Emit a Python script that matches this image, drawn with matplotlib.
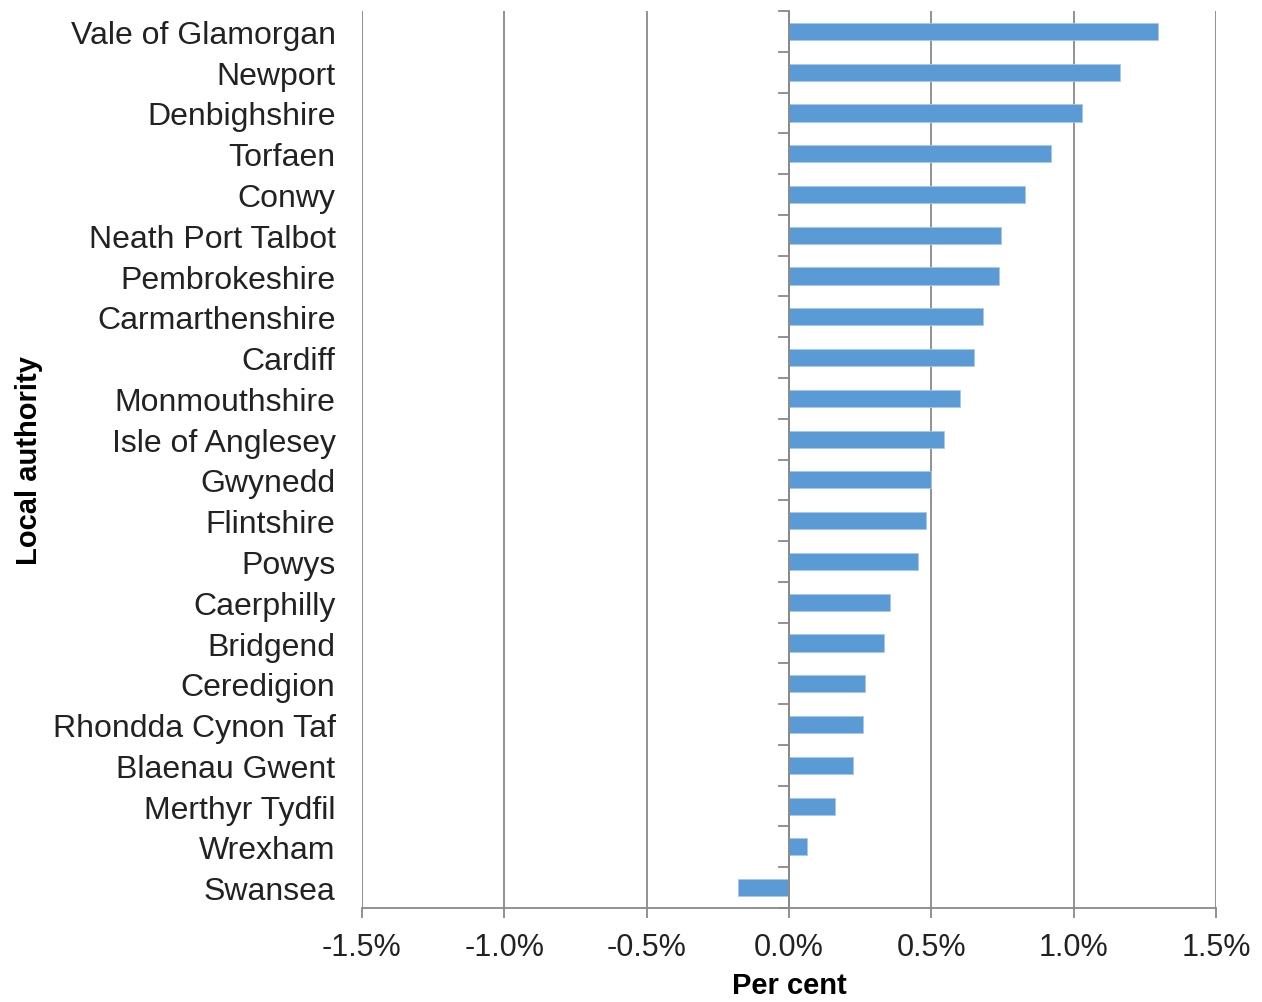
import matplotlib.pyplot as plt
from matplotlib.ticker import FuncFormatter

plt.rcParams['font.family'] = ['Liberation Sans', 'DejaVu Sans']

authorities = [
    "Vale of Glamorgan", "Newport", "Denbighshire", "Torfaen", "Conwy",
    "Neath Port Talbot", "Pembrokeshire", "Carmarthenshire", "Cardiff",
    "Monmouthshire", "Isle of Anglesey", "Gwynedd", "Flintshire", "Powys",
    "Caerphilly", "Bridgend", "Ceredigion", "Rhondda Cynon Taf",
    "Blaenau Gwent", "Merthyr Tydfil", "Wrexham", "Swansea",
]
change_pct = [
    1.296, 1.163, 1.029, 0.920, 0.829, 0.745, 0.738, 0.681, 0.650,
    0.601, 0.544, 0.499, 0.481, 0.453, 0.355, 0.334, 0.267, 0.260,
    0.225, 0.162, 0.063, -0.179,
]
x_ticks = [-1.5, -1.0, -0.5, 0.0, 0.5, 1.0, 1.5]

grey = '#898989'
fig = plt.figure(figsize=(12.62, 10.03), dpi=100)
ax = fig.add_axes([0.2868, 0.0937, 0.6767, 0.8943])

n = len(authorities)
ypos = list(range(n - 1, -1, -1))
ax.barh(ypos, change_pct, height=0.42, color='#5B9BD5',
        edgecolor='#a9c8e8', linewidth=0.6, zorder=3)

ax.set_xlim(-1.5, 1.5)
ax.set_ylim(-0.5, n - 0.5)
ax.set_xticks(x_ticks)
ax.xaxis.set_major_formatter(FuncFormatter(lambda v, p: f"{v:.1f}%"))
ax.grid(axis='x', color=grey, linewidth=1.3, zorder=0)

for s in ['top', 'right', 'left']:
    ax.spines[s].set_visible(False)
ax.spines['bottom'].set_color(grey)
ax.spines['bottom'].set_linewidth(1.3)
ax.tick_params(axis='x', colors=grey, length=7, width=1.3, labelsize=22,
               labelcolor='#222222', pad=10)

# category axis drawn at zero, labels at the left edge
ax.axvline(0, color=grey, linewidth=1.3, zorder=4)
ax.set_yticks(ypos)
ax.set_yticklabels(authorities)
ax.tick_params(axis='y', length=0, labelsize=23, labelcolor='#222222', pad=19)
for b in range(n + 1):
    ax.plot([-0.035, 0], [b - 0.5, b - 0.5], color=grey, linewidth=1.3,
            zorder=4, clip_on=False)

ax.set_xlabel("Per cent", fontsize=21, fontweight='bold', labelpad=7)
ax.set_ylabel("Local authority", fontsize=21, fontweight='bold', labelpad=7)

fig.savefig("out.png", dpi=100)
